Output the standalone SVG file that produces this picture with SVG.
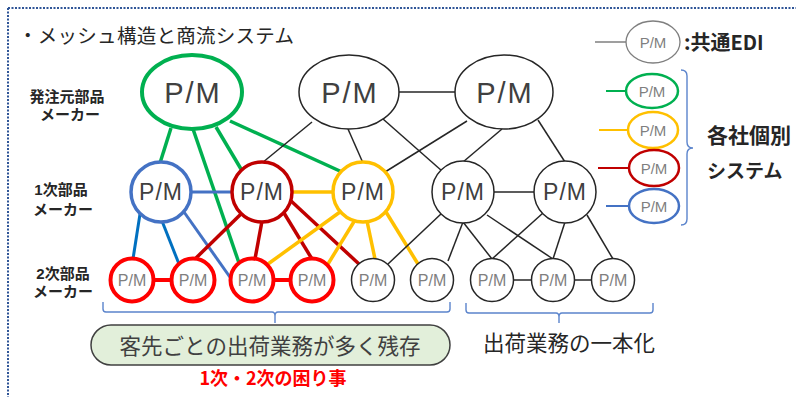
<svg xmlns="http://www.w3.org/2000/svg" width="796" height="397" viewBox="0 0 796 397">
<style>
.jp{font-family:"Noto Sans CJK JP","Liberation Sans",sans-serif}
.pm{font-family:"Liberation Sans","Noto Sans CJK JP",sans-serif;text-anchor:middle}
.big{font-size:29px;fill:#404040;letter-spacing:2px}
.mid{font-size:23px;fill:#404040;letter-spacing:1px}
.sm{font-size:16px;fill:#7f7f7f}
.lg{font-size:15px;fill:#7f7f7f}
.lbl{font-family:"Liberation Sans","Noto Sans CJK JP",sans-serif;font-weight:bold;font-size:15px;fill:#262626;text-anchor:middle}
.nd{fill:#fff}
.k{stroke:#262626;stroke-width:1.5}
.g{stroke:#00B050;stroke-width:3.5}
.b{stroke:#4472C4;stroke-width:3}
.bb{stroke:#0070C0;stroke-width:3}
.r{stroke:#C00000;stroke-width:3.5}
.rr{stroke:#FF0000;stroke-width:4}
.y{stroke:#FFC000;stroke-width:3.5}
.brace{fill:none;stroke:#5B84CC;stroke-width:1.4}
</style>
<rect width="796" height="397" fill="#fff"/>
<path d="M8,8 H796 M8,8 V397" fill="none" stroke="#2F5597" stroke-width="2" stroke-dasharray="2,1.5"/>
<text class="jp" x="18" y="43" font-size="19.5" fill="#262626" textLength="276">・メッシュ構造と商流システム</text>

<g id="labels">
<text class="lbl" x="67" y="102">発注元部品</text>
<text class="lbl" x="70" y="120">メーカー</text>
<text class="lbl" x="61" y="195">1次部品</text>
<text class="lbl" x="63" y="215">メーカー</text>
<text class="lbl" x="63" y="279">2次部品</text>
<text class="lbl" x="63" y="297">メーカー</text>
</g>

<g id="connectors" fill="none" stroke-linecap="butt">
<line class="g" x1="171" y1="128" x2="160" y2="163"/>
<line class="g" x1="193" y1="129" x2="239" y2="263"/>
<line class="g" x1="216" y1="127" x2="241" y2="169"/>
<line class="g" x1="230" y1="121" x2="342" y2="172"/>
<line class="b" x1="190" y1="192" x2="233" y2="192"/>
<line class="bb" x1="140" y1="214" x2="133" y2="259"/>
<line class="bb" x1="162" y1="221" x2="179" y2="264"/>
<line class="b" x1="184" y1="212" x2="232" y2="280"/>
<line class="r" x1="241" y1="214" x2="195" y2="259"/>
<line class="r" x1="262" y1="221" x2="255" y2="259"/>
<line class="r" x1="284" y1="213" x2="312" y2="259"/>
<line class="r" x1="290" y1="200" x2="359" y2="264"/>
<line class="y" x1="291" y1="192" x2="334" y2="192"/>
<line class="y" x1="340" y1="212" x2="268" y2="264"/>
<line class="y" x1="355" y1="220" x2="328" y2="264"/>
<line class="y" x1="367" y1="221" x2="375" y2="259"/>
<line class="y" x1="386" y1="212" x2="418" y2="264"/>
<line class="k" x1="312" y1="122" x2="262" y2="163"/>
<line class="k" x1="348" y1="129" x2="363" y2="163"/>
<line class="k" x1="383" y1="119" x2="442" y2="171"/>
<line class="k" x1="398" y1="92" x2="456" y2="92"/>
<line class="k" x1="467" y1="121" x2="385" y2="172"/>
<line class="k" x1="502" y1="129" x2="463" y2="162"/>
<line class="k" x1="538" y1="120" x2="565" y2="162"/>
<line class="k" x1="493" y1="192" x2="535" y2="192"/>
<line class="k" x1="442" y1="213" x2="388" y2="264"/>
<line class="k" x1="463" y1="222" x2="448" y2="261"/>
<line class="k" x1="463" y1="222" x2="492" y2="259"/>
<line class="k" x1="487" y1="215" x2="553" y2="259"/>
<line class="k" x1="543" y1="213" x2="492" y2="259"/>
<line class="k" x1="565" y1="222" x2="553" y2="259"/>
<line class="k" x1="587" y1="215" x2="613" y2="259"/>
<line class="k" x1="513" y1="280" x2="532" y2="280"/>
<line class="k" x1="574" y1="280" x2="592" y2="280"/>
<line class="rr" x1="153" y1="280" x2="172" y2="280"/>
<line class="rr" x1="273" y1="280" x2="291" y2="280"/>
</g>

<g id="n-top1"><ellipse class="nd" cx="192" cy="92" rx="50" ry="37" stroke="#00B050" stroke-width="4"/><text class="pm big" x="193" y="103">P/M</text></g>
<g id="n-top2"><ellipse class="nd" cx="349" cy="92" rx="50" ry="37" stroke="#262626" stroke-width="1.5"/><text class="pm big" x="350" y="103">P/M</text></g>
<g id="n-top3"><ellipse class="nd" cx="504" cy="92" rx="49" ry="37" stroke="#262626" stroke-width="1.5"/><text class="pm big" x="505" y="103">P/M</text></g>

<g id="n-mid1"><circle class="nd" cx="161" cy="192" r="30" stroke="#4472C4" stroke-width="3.5"/><text class="pm mid" x="161" y="200">P/M</text></g>
<g id="n-mid2"><circle class="nd" cx="262" cy="192" r="30" stroke="#C00000" stroke-width="3.5"/><text class="pm mid" x="262" y="200">P/M</text></g>
<g id="n-mid3"><circle class="nd" cx="363" cy="192" r="30" stroke="#FFC000" stroke-width="3.5"/><text class="pm mid" x="363" y="200">P/M</text></g>
<g id="n-mid4"><circle class="nd" cx="463" cy="192" r="31" stroke="#262626" stroke-width="1.5"/><text class="pm mid" x="463" y="200">P/M</text></g>
<g id="n-mid5"><circle class="nd" cx="565" cy="192" r="31" stroke="#262626" stroke-width="1.5"/><text class="pm mid" x="565" y="200">P/M</text></g>

<g id="n-bot1"><circle class="nd" cx="132" cy="280" r="21.5" stroke="#FF0000" stroke-width="4"/><text class="pm sm" x="132" y="286">P/M</text></g>
<g id="n-bot2"><circle class="nd" cx="193" cy="280" r="21.5" stroke="#FF0000" stroke-width="4"/><text class="pm sm" x="193" y="286">P/M</text></g>
<g id="n-bot3"><circle class="nd" cx="252" cy="280" r="21.5" stroke="#FF0000" stroke-width="4"/><text class="pm sm" x="252" y="286">P/M</text></g>
<g id="n-bot4"><circle class="nd" cx="312" cy="280" r="21.5" stroke="#FF0000" stroke-width="4"/><text class="pm sm" x="312" y="286">P/M</text></g>
<g id="n-bot5"><circle class="nd" cx="373" cy="280" r="21.5" stroke="#262626" stroke-width="1.5"/><text class="pm sm" x="373" y="286">P/M</text></g>
<g id="n-bot6"><circle class="nd" cx="432" cy="280" r="21.5" stroke="#262626" stroke-width="1.5"/><text class="pm sm" x="432" y="286">P/M</text></g>
<g id="n-bot7"><circle class="nd" cx="492" cy="280" r="21.5" stroke="#262626" stroke-width="1.5"/><text class="pm sm" x="492" y="286">P/M</text></g>
<g id="n-bot8"><circle class="nd" cx="553" cy="280" r="21.5" stroke="#262626" stroke-width="1.5"/><text class="pm sm" x="553" y="286">P/M</text></g>
<g id="n-bot9"><circle class="nd" cx="613" cy="280" r="21.5" stroke="#262626" stroke-width="1.5"/><text class="pm sm" x="613" y="286">P/M</text></g>

<g id="braces">
<path class="brace" d="M103,302 V309 Q103,312 106,312 H272 Q275,312 275,316 V323 M275,316 Q275,312 278,312 H447 Q450,312 450,309 V302"/>
<path class="brace" d="M466,303 V310 Q466,313 469,313 H556 Q559,313 559,317 V323 M559,317 Q559,313 562,313 H650 Q653,313 653,310 V303"/>
<path class="brace" d="M681,70 Q687,70 687,76 V142 Q687,148 693,148 Q687,148 687,154 V219 Q687,225 681,225"/>
</g>

<g id="legend">
<g id="lg-common"><line x1="595" y1="42" x2="627" y2="42" stroke="#7f7f7f" stroke-width="1.5"/><ellipse class="nd" cx="653" cy="42" rx="27" ry="21" stroke="#7f7f7f" stroke-width="1.3"/><text class="pm lg" x="653" y="48">P/M</text></g>
<g id="lg-green"><line x1="606" y1="91" x2="626" y2="91" stroke="#00B050" stroke-width="2"/><ellipse class="nd" cx="652" cy="91" rx="26" ry="17" stroke="#00B050" stroke-width="2.5"/><text class="pm lg" x="652" y="97">P/M</text></g>
<g id="lg-yellow"><line x1="599" y1="130" x2="628" y2="130" stroke="#FFC000" stroke-width="2"/><ellipse class="nd" cx="653" cy="130" rx="25" ry="18" stroke="#FFC000" stroke-width="2.5"/><text class="pm lg" x="653" y="136">P/M</text></g>
<g id="lg-red"><line x1="598" y1="168" x2="629" y2="168" stroke="#C00000" stroke-width="2"/><ellipse class="nd" cx="654" cy="168" rx="25" ry="18" stroke="#C00000" stroke-width="2.5"/><text class="pm lg" x="654" y="174">P/M</text></g>
<g id="lg-blue"><line x1="606" y1="206" x2="630" y2="206" stroke="#4472C4" stroke-width="2"/><ellipse class="nd" cx="654" cy="206" rx="25" ry="17" stroke="#4472C4" stroke-width="2.5"/><text class="pm lg" x="654" y="212">P/M</text></g>
<text class="jp" x="684" y="50" font-size="20" font-weight="bold" fill="#262626">:共通EDI</text>
<text class="jp" x="707" y="143" font-size="21" font-weight="bold" fill="#262626">各社個別</text>
<text class="jp" x="707" y="178" font-size="19" font-weight="bold" fill="#262626">システム</text>
</g>

<g id="box-issue">
<rect x="91" y="325" width="359" height="40" rx="20" ry="20" fill="#E2EFDA" stroke="#404040" stroke-width="1.5"/>
<text class="jp" x="270" y="354" font-size="21.5" fill="#404040" text-anchor="middle">客先ごとの出荷業務が多く残存</text>
</g>
<text class="jp" x="273" y="385" font-size="18" font-weight="bold" fill="#FF0000" text-anchor="middle">1次・2次の困り事</text>
<text class="jp" x="483" y="351" font-size="21.5" fill="#262626">出荷業務の一本化</text>
</svg>
